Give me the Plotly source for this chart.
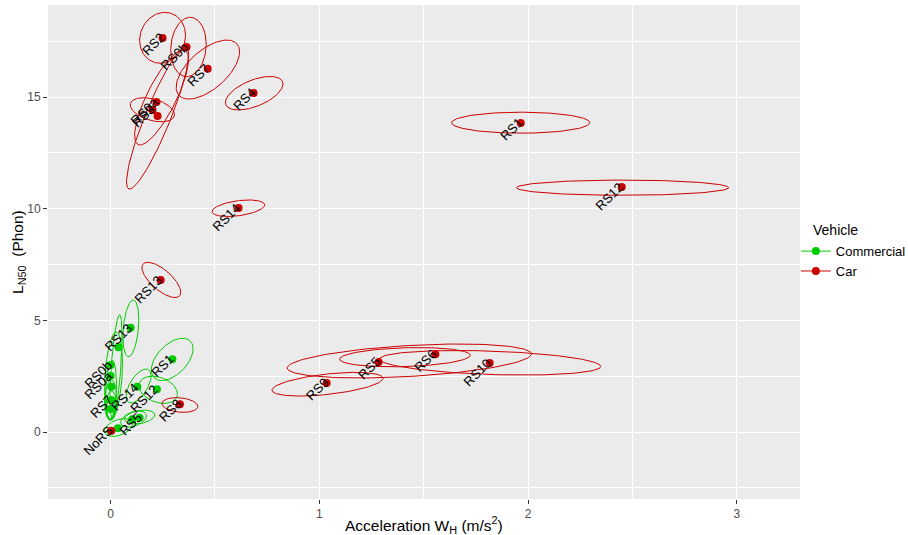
import numpy as np
import plotly.graph_objects as go

# ---------------- Data ----------------
# Car (red)
car_labels = ["NoRS", "RS0a", "RS0b", "RS1", "RS2", "RS3", "RS4", "RS5", "RS6",
              "RS7", "RS8", "RS9", "RS10", "RS11", "RS12", "RS13", "RS14"]
car_x = [0.003, 0.220, 0.364, 1.965, 0.249, 0.201, 0.685, 1.284, 1.556,
         0.465, 0.332, 1.035, 1.816, 0.225, 2.449, 0.240, 0.613]
car_y = [0.06, 14.78, 17.24, 13.84, 17.64, 14.42, 15.18, 3.13, 3.48,
         16.26, 1.24, 2.19, 3.09, 14.15, 10.97, 6.81, 10.03]
# ellipse: centre x, centre y, half-extent x, half-extent y, correlation
car_ecx = [0.0, 0.244, 0.373, 1.965, 0.249, 0.200, 0.688, 1.431, 1.410,
           0.466, 0.332, 1.039, 1.818, 0.225, 2.453, 0.243, 0.612]
car_ecy = [0.0, 14.98, 17.24, 13.85, 17.65, 14.43, 15.17, 3.18, 3.35,
           16.23, 1.21, 2.14, 3.10, 14.06, 10.94, 6.81, 10.02]
car_ea = [0.0, 0.129, 0.085, 0.331, 0.110, 0.106, 0.138, 0.585, 0.313,
          0.152, 0.086, 0.266, 0.530, 0.149, 0.508, 0.093, 0.126]
car_eb = [0.0, 2.13, 1.33, 0.47, 1.14, 0.54, 0.75, 0.76, 0.43,
          1.32, 0.33, 0.53, 0.55, 3.18, 0.34, 0.79, 0.37]
car_er = [0.0, 0.8, 0.1, 0.0, 0.1, -0.4, 0.55, 0.41, 0.2,
          0.6, -0.2, 0.5, -0.3, 0.9, 0.0, -0.7, 0.4]
car_shown = ["NoRS", "RS0a", "RS0b", "RS1", "RS2", "RS3", "RS4", "RS5", "RS6",
             "RS7", "RS8", "RS9", "RS10", "RS12", "RS13", "RS14"]

# Commercial (green)
com_labels = ["NoRS", "RS0a", "RS0b", "RS1", "RS2", "RS3", "RS4", "RS5", "RS6",
              "RS7", "RS8", "RS12", "RS13", "RS14"]
com_x = [0.000, 0.000, 0.000, 0.296, 0.038, 0.003, 0.000, 0.139, 0.104,
         0.003, 0.035, 0.222, 0.096, 0.128]
com_y = [0.05, 2.51, 3.00, 3.26, 3.79, 2.03, 1.03, 0.64, 0.57,
         1.43, 0.17, 1.91, 4.67, 2.03]
com_ecx = [0.0, 0.002, 0.014, 0.295, 0.026, 0.000, 0.000, 0.139, 0.110,
           0.002, 0.038, 0.228, 0.097, 0.134]
com_ecy = [0.0, 1.88, 2.51, 3.25, 2.91, 1.43, 1.03, 0.67, 0.58,
           1.21, 0.20, 1.89, 4.64, 2.06]
com_ea = [0.0, 0.026, 0.043, 0.100, 0.029, 0.029, 0.020, 0.072, 0.062,
          0.024, 0.067, 0.092, 0.038, 0.060]
com_eb = [0.0, 1.34, 1.97, 0.95, 2.33, 0.90, 0.45, 0.31, 0.36,
          0.63, 0.40, 0.61, 1.27, 0.76]
com_er = [0.0, 0.2, 0.3, 0.5, 0.6, 0.1, 0.0, 0.3, 0.4,
          0.1, 0.4, -0.3, 0.3, 0.6]
com_shown = ["RS0a", "RS0b", "RS1", "RS5", "RS7", "RS12", "RS13", "RS14"]

GREEN = "#00CD00"
RED = "#CD0000"
FONT = "Liberation Sans, Arial, sans-serif"

fig = go.Figure()


def ellipse_path(cx, cy, a, b, r):
    xs, ys = [], []
    t = np.linspace(0, 2 * np.pi, 121)
    for i in range(len(cx)):
        if a[i] <= 0 or b[i] <= 0:
            continue
        ex = cx[i] + a[i] * np.cos(t)
        ey = cy[i] + b[i] * (r[i] * np.cos(t) + np.sqrt(1 - r[i] ** 2) * np.sin(t))
        xs += list(ex) + [None]
        ys += list(ey) + [None]
    return xs, ys


def gapped(v):
    out = []
    for val in v:
        out += [val, None]
    return out


for name, col, cx, cy, a, b, r in [
    ("Commercial", GREEN, com_ecx, com_ecy, com_ea, com_eb, com_er),
    ("Car", RED, car_ecx, car_ecy, car_ea, car_eb, car_er),
]:
    ex, ey = ellipse_path(cx, cy, a, b, r)
    fig.add_trace(go.Scatter(x=ex, y=ey, mode="lines", line=dict(color=col, width=1),
                             legendgroup=name, showlegend=False, hoverinfo="skip"))

for name, col, lx, ly in [("Commercial", GREEN, com_x, com_y), ("Car", RED, car_x, car_y)]:
    fig.add_trace(go.Scatter(x=gapped(lx), y=gapped(ly), mode="lines+markers", name=name,
                             line=dict(color=col, width=1),
                             marker=dict(color=col, size=8), legendgroup=name,
                             connectgaps=False))

annotations = []
LFONT = dict(family=FONT, size=13, color="black")
for labs, xs, ys, shown in [(com_labels, com_x, com_y, com_shown),
                            (car_labels, car_x, car_y, car_shown)]:
    for lab, xv, yv in zip(labs, xs, ys):
        if lab not in shown:
            continue
        annotations.append(dict(x=xv, y=yv, xref="x", yref="y", text=lab, showarrow=False,
                                textangle=-45, xanchor="right", yanchor="top",
                                xshift=6, yshift=9, font=LFONT, borderpad=0))

annotations.append(dict(xref="paper", yref="paper", x=0.5, y=-0.052, yanchor="middle",
                        xanchor="center", showarrow=False,
                        text="Acceleration W<sub>H</sub> (m/s<sup>2</sup>)",
                        font=dict(family=FONT, size=15.5, color="black")))
annotations.append(dict(xref="paper", yref="paper", x=-0.040, y=0.5, xanchor="center",
                        yanchor="middle", showarrow=False, textangle=-90,
                        text="L<sub>N50</sub>  (Phon)",
                        font=dict(family=FONT, size=15.5, color="black")))
# legend title
annotations.append(dict(xref="paper", yref="paper", x=(811 - 48) / 752, y=(499 - 230) / 494,
                        xanchor="left", yanchor="middle", showarrow=False, text="Vehicle",
                        font=dict(family=FONT, size=14, color="black")))

axis_common = dict(showline=False, zeroline=False, gridcolor="white", gridwidth=1.1,
                   ticks="outside", ticklen=4, tickcolor="#333333", tickwidth=1,
                   automargin=False,
                   tickfont=dict(family=FONT, size=12, color="#4D4D4D"))

fig.update_layout(
    width=908, height=535,
    margin=dict(l=48, r=108, t=5, b=36, autoexpand=False),
    paper_bgcolor="white", plot_bgcolor="#EBEBEB",
    font=dict(family=FONT),
    xaxis=dict(range=[-0.300, 3.303], tickmode="linear", tick0=0, dtick=1,
               minor=dict(dtick=0.5, tick0=0, gridcolor="white", gridwidth=0.55, ticks=""),
               **axis_common),
    yaxis=dict(range=[-3.0, 19.12], tickmode="linear", tick0=0, dtick=5,
               minor=dict(dtick=2.5, tick0=0, gridcolor="white", gridwidth=0.55, ticks=""),
               **axis_common),
    legend=dict(xref="container", yref="container", x=0.8765, y=0.5586,
                xanchor="left", yanchor="top",
                font=dict(size=13, color="black"), bgcolor="rgba(0,0,0,0)",
                tracegroupgap=0, itemwidth=30),
    annotations=annotations,
    showlegend=True,
)

fig.write_html("out.html")
